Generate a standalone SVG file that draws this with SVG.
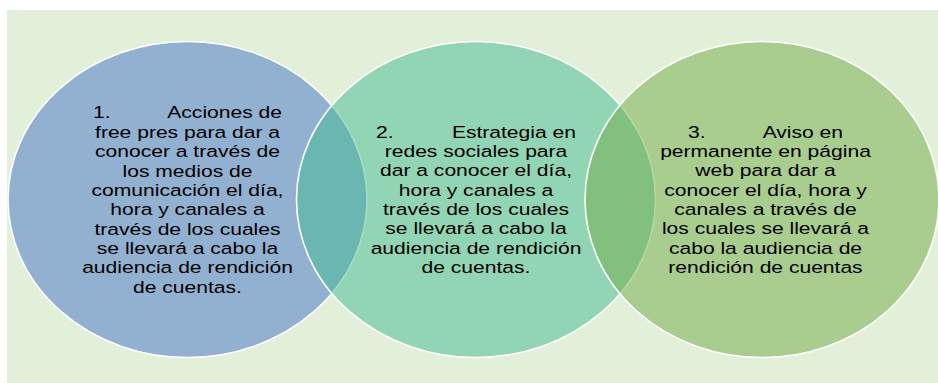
<svg xmlns="http://www.w3.org/2000/svg" width="938" height="383" viewBox="0 0 938 383">
<style>
.t{font-family:"Liberation Sans",Arial,sans-serif;font-size:17px;fill:#000;text-anchor:middle}
.s{text-anchor:start}
.e{text-anchor:end}
.c{stroke:#fff;stroke-width:1.6}
</style>
<rect x="0" y="0" width="938" height="383" fill="#ffffff"/>
<rect x="7" y="10" width="931" height="373" fill="#e2efd9"/>
<g id="connectors"/>
<g id="node1">
<ellipse class="c" cx="187.5" cy="199.5" rx="179.5" ry="158" fill="#92b0d0"/>
<text class="t" transform="translate(187.5,0) scale(1.24,1)"><tspan class="s" x="-76.2" y="118.5">1.</tspan><tspan class="e" x="76.2" y="118.5">Acciones de</tspan><tspan x="0" y="137.9">free pres para dar a</tspan><tspan x="0" y="157.2">conocer a través de</tspan><tspan x="0" y="176.6">los medios de</tspan><tspan x="0" y="195.9">comunicación el día,</tspan><tspan x="0" y="215.3">hora y canales a</tspan><tspan x="0" y="234.6">través de los cuales</tspan><tspan x="0" y="254">se llevará a cabo la</tspan><tspan x="0" y="273.3">audiencia de rendición</tspan><tspan x="0" y="292.7">de cuentas.</tspan></text>
</g>
<g id="node2">
<ellipse class="c" cx="476" cy="199.5" rx="179.5" ry="158" fill="rgb(66,187,143)" fill-opacity="0.5"/>
<text class="t" transform="translate(476,0) scale(1.24,1)"><tspan class="s" x="-80.6" y="137.7">2.</tspan><tspan class="e" x="80.6" y="137.7">Estrategia en</tspan><tspan x="0" y="157">redes sociales para</tspan><tspan x="0" y="176.4">dar a conocer el día,</tspan><tspan x="0" y="195.8">hora y canales a</tspan><tspan x="0" y="215.1">través de los cuales</tspan><tspan x="0" y="234.5">se llevará a cabo la</tspan><tspan x="0" y="253.9">audiencia de rendición</tspan><tspan x="0" y="273.3">de cuentas.</tspan></text>
</g>
<g id="node3">
<ellipse class="c" cx="762" cy="199.5" rx="177" ry="158" fill="rgb(112,171,69)" fill-opacity="0.5"/>
<text class="t" transform="translate(765.5,0) scale(1.24,1)"><tspan class="s" x="-62.5" y="137.7">3.</tspan><tspan class="e" x="62.5" y="137.7">Aviso en</tspan><tspan x="0" y="157">permanente en página</tspan><tspan x="0" y="176.4">web para dar a</tspan><tspan x="0" y="195.8">conocer el día, hora y</tspan><tspan x="0" y="215.1">canales a través de</tspan><tspan x="0" y="234.5">los cuales se llevará a</tspan><tspan x="0" y="253.9">cabo la audiencia de</tspan><tspan x="0" y="273.3">rendición de cuentas</tspan></text>
</g>
</svg>
